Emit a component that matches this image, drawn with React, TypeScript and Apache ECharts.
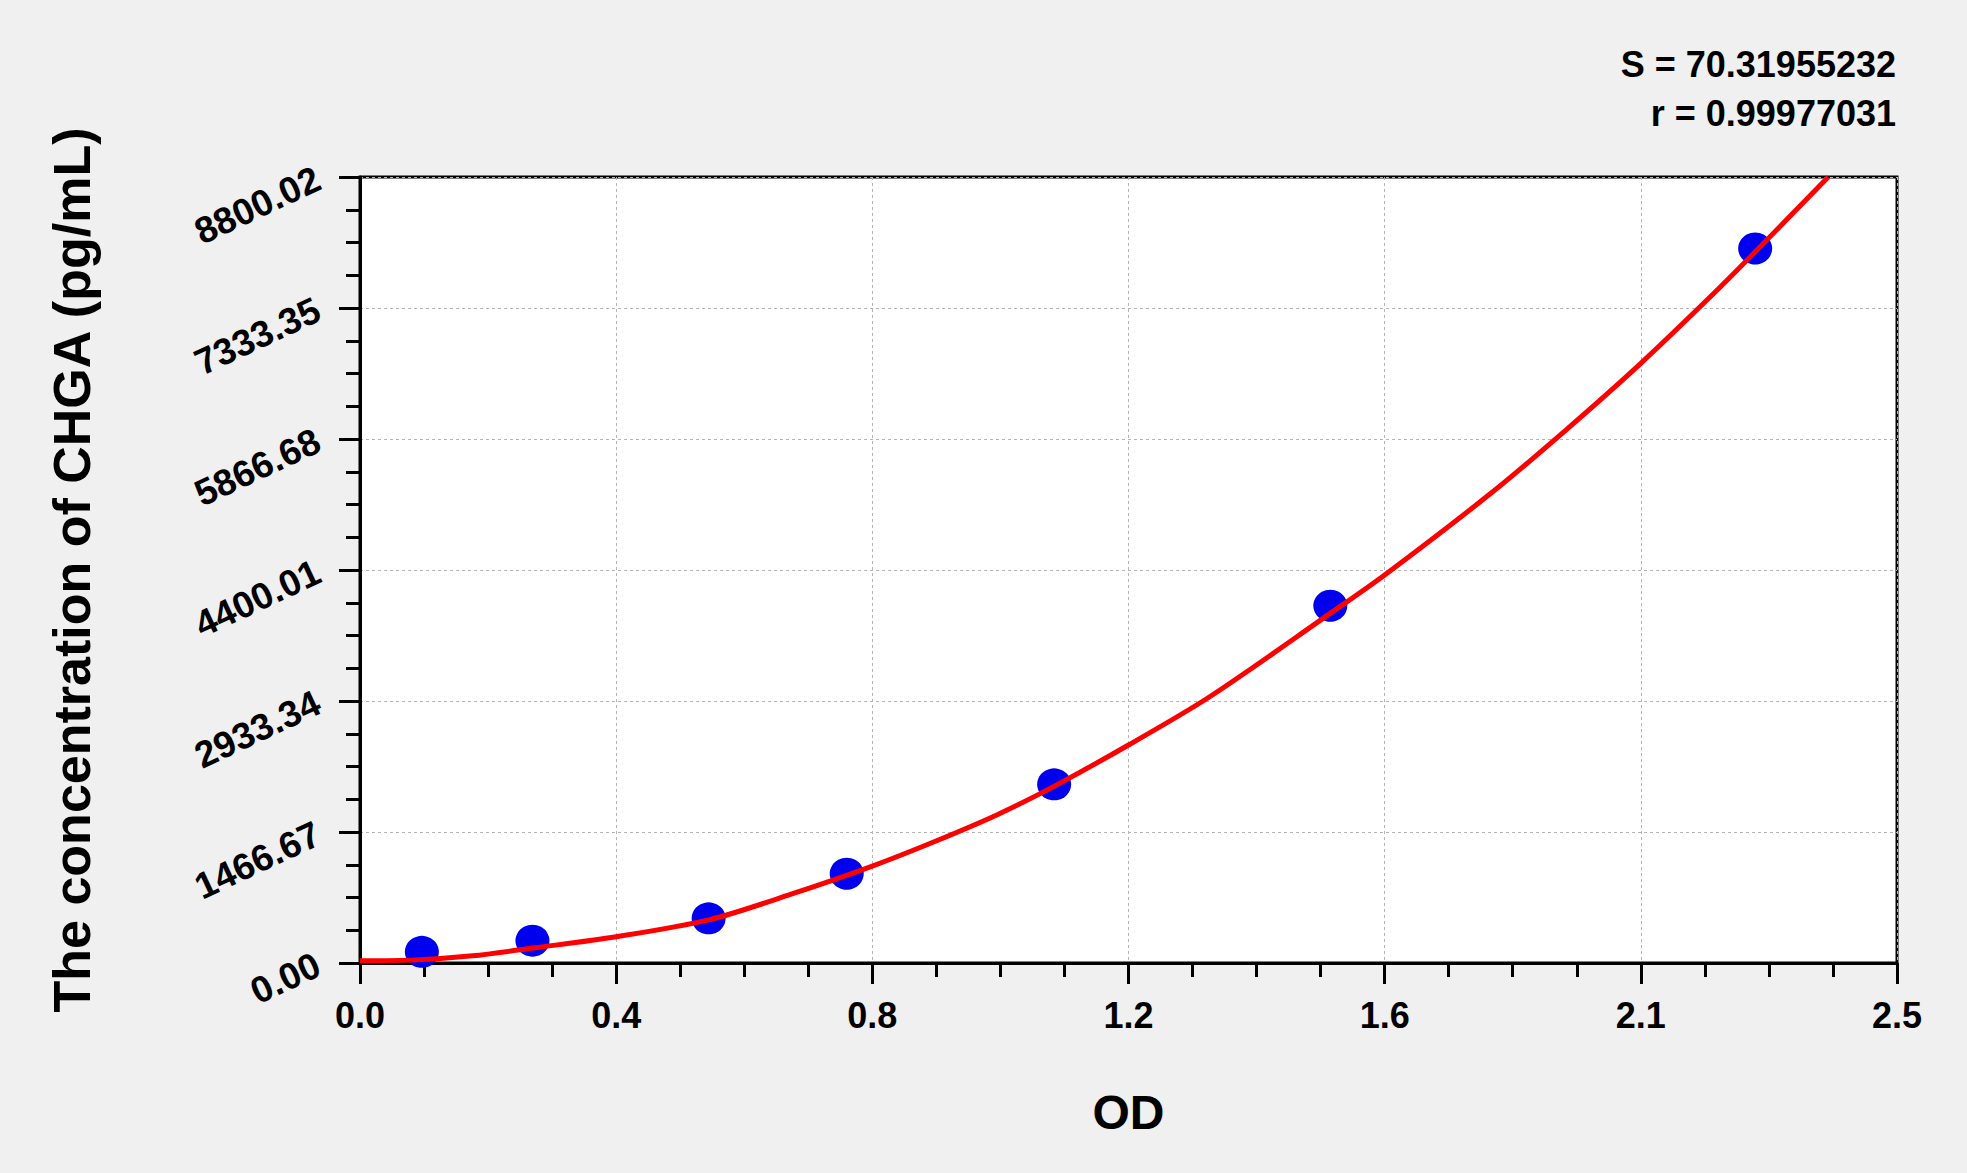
import { useEffect, useRef } from "react";
import * as echarts from "echarts";

// tick labels as printed on the original plot
const xTickLabels = ["0.0", "0.4", "0.8", "1.2", "1.6", "2.1", "2.5"];
const yTickLabels = ["0.00", "1466.67", "2933.34", "4400.01", "5866.68", "7333.35", "8800.02"];

const X_MAX = 2.46;
const X_STEP = 0.41;
const Y_MAX = 8800.02;
const Y_STEP = 1466.67;

// standards (OD vs concentration)
const stdOD = [0.099, 0.276, 0.558, 0.779, 1.111, 1.553, 2.233];
const stdConc = [125, 250, 500, 1000, 2000, 4000, 8000];

// fitted curve
const curveOD = [0, 0.09, 0.18, 0.28, 0.41, 0.56, 0.69, 0.82, 0.92, 1.02, 1.11, 1.23, 1.36, 1.55, 1.64, 1.81, 1.93, 2.05, 2.16, 2.23, 2.35];
const curveConc = [26, 35, 80, 170, 294, 486, 770, 1085, 1360, 1660, 1975, 2441, 2981, 3900, 4344, 5259, 5967, 6714, 7450, 7940, 8800];

const statS = "S = 70.31955232";
const statR = "r = 0.99977031";

const FONT = "'Liberation Sans', Arial, sans-serif";

export default function App() {
  const ref = useRef<HTMLDivElement>(null);

  useEffect(() => {
    document.body.style.margin = "0";
    if (!ref.current) return;
    const chart = echarts.init(ref.current, undefined, { renderer: "svg" });

    const tickStyle = { color: "#000", width: 3 };

    chart.setOption({
      animation: false,
      backgroundColor: "#f0f0f0",
      grid: {
        left: 360,
        top: 177,
        right: 70,
        bottom: 210,
        show: true,
        backgroundColor: "#fff",
        borderColor: "#000",
        borderWidth: 3,
      },
      xAxis: {
        type: "value",
        min: 0,
        max: X_MAX,
        interval: X_STEP,
        name: "OD",
        nameLocation: "middle",
        nameGap: 125,
        nameTextStyle: { fontFamily: FONT, fontWeight: "bold", fontSize: 48, color: "#000" },
        axisLine: { lineStyle: { color: "#000", width: 3 } },
        axisTick: { show: true, length: 21, lineStyle: tickStyle },
        minorTick: { show: true, splitNumber: 4, length: 14, lineStyle: tickStyle },
        axisLabel: {
          margin: 34,
          fontFamily: FONT,
          fontWeight: "bold",
          fontSize: 36,
          color: "#000",
          formatter: (v: number) => xTickLabels[Math.round(v / X_STEP)] ?? "",
        },
        splitLine: { show: true, lineStyle: { color: "#b4b4b4", width: 1, type: [3, 3] } },
      },
      yAxis: {
        type: "value",
        min: 0,
        max: Y_MAX,
        interval: Y_STEP,
        name: "The concentration of CHGA (pg/mL)",
        nameLocation: "middle",
        nameGap: 262,
        nameTextStyle: { fontFamily: FONT, fontWeight: "bold", fontSize: 52, color: "#000" },
        axisLine: { lineStyle: { color: "#000", width: 3 } },
        axisTick: { show: true, length: 21, lineStyle: tickStyle },
        minorTick: { show: true, splitNumber: 4, length: 14, lineStyle: tickStyle },
        axisLabel: {
          margin: 42,
          rotate: 25,
          fontFamily: FONT,
          fontWeight: "bold",
          fontSize: 37,
          color: "#000",
          formatter: (v: number) => yTickLabels[Math.round(v / Y_STEP)] ?? "",
        },
        splitLine: { show: true, lineStyle: { color: "#b4b4b4", width: 1, type: [3, 3] } },
      },
      graphic: [
        {
          type: "text",
          x: 1896,
          y: 64,
          style: {
            text: statS,
            font: `bold 36px ${FONT}`,
            fill: "#000",
            textAlign: "right",
            textVerticalAlign: "middle",
          },
        },
        {
          type: "text",
          x: 1896,
          y: 113,
          style: {
            text: statR,
            font: `bold 36px ${FONT}`,
            fill: "#000",
            textAlign: "right",
            textVerticalAlign: "middle",
          },
        },
      ],
      series: [
        {
          type: "scatter",
          z: 2,
          symbol: "circle",
          symbolSize: [34, 32],
          itemStyle: { color: "#0000ee", opacity: 1 },
          data: stdOD.map((x, i) => [x, stdConc[i]]),
        },
        {
          type: "line",
          z: 3,
          showSymbol: false,
          smooth: 0.3,
          lineStyle: { color: "#ff0000", width: 5 },
          data: curveOD.map((x, i) => [x, curveConc[i]]),
        },
      ],
    });

    return () => chart.dispose();
  }, []);

  return <div ref={ref} style={{ width: 1967, height: 1173 }} />;
}
